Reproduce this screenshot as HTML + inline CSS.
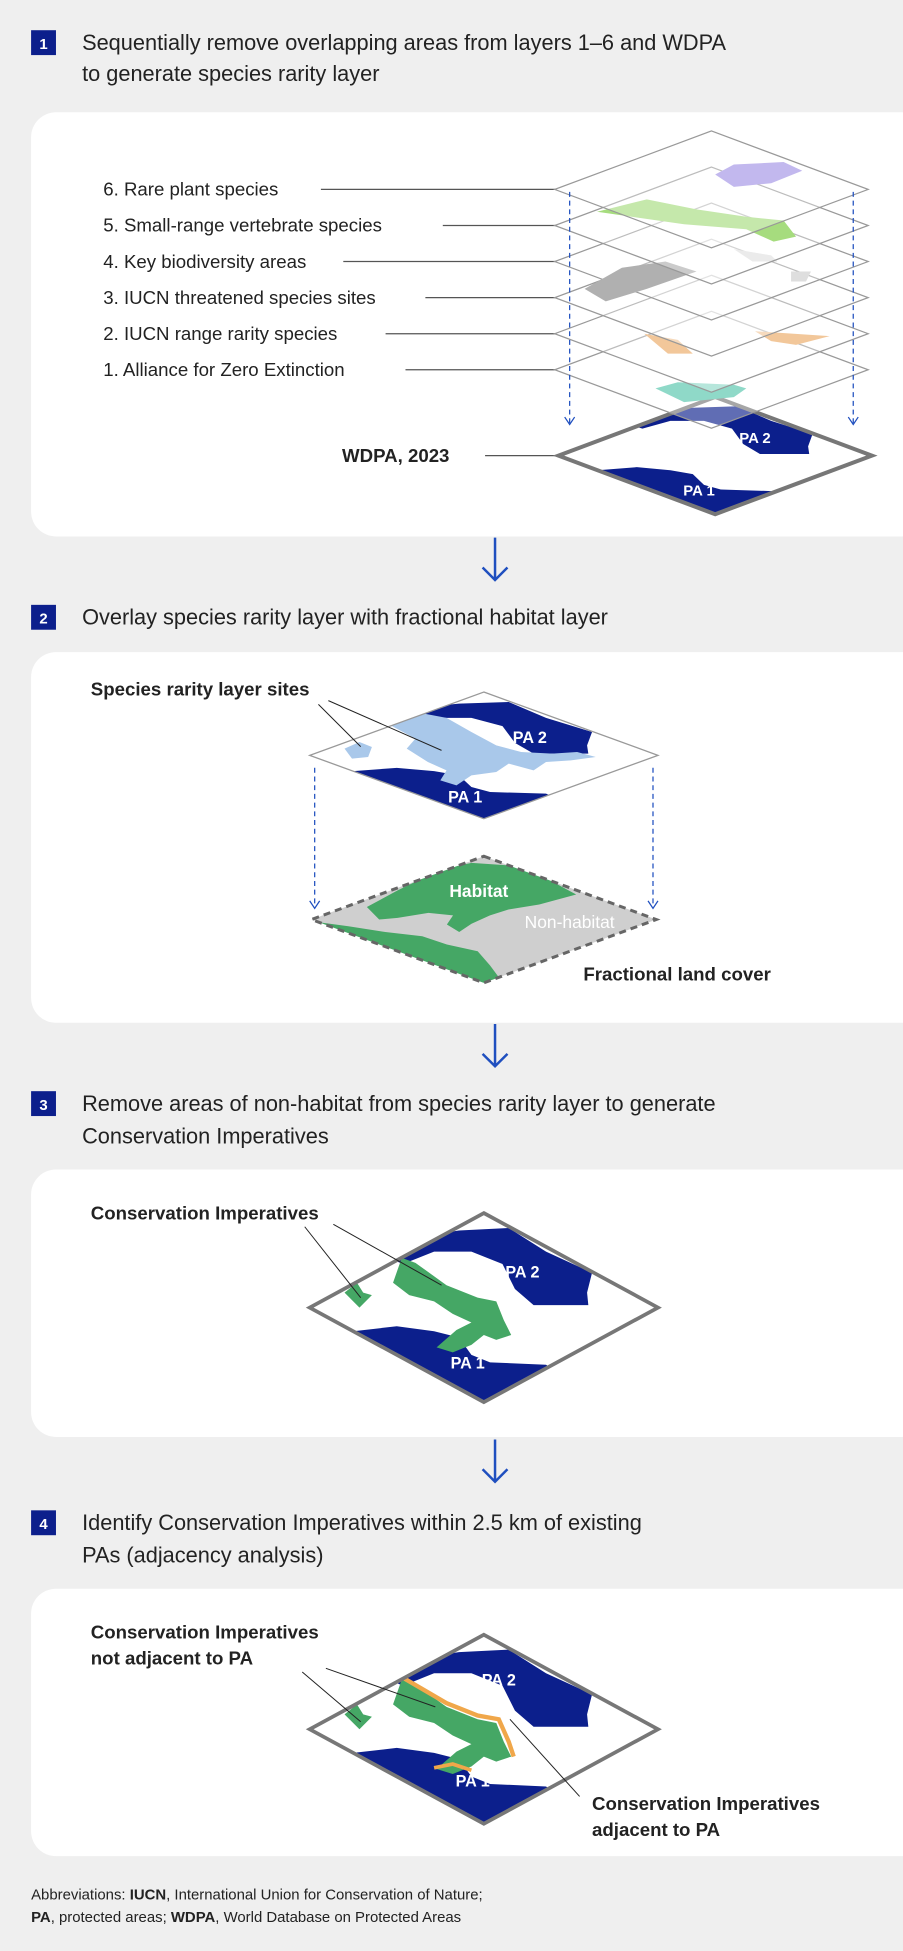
<!DOCTYPE html>
<html><head><meta charset="utf-8"><style>
html,body{margin:0;padding:0;background:#efefef;}
svg{display:block;}
text{font-family:"Liberation Sans",sans-serif;}
</style></head><body>
<svg width="903" height="1951" viewBox="0 0 726 1568" xmlns="http://www.w3.org/2000/svg">
<defs>
<clipPath id="dm"><path d="M0,-76 L140,0 L0,76 L-140,0Z"/></clipPath>
<g id="pa2"><path d="M-72,-38 L-60,-56 L-20,-62 L20,-64 L50,-45 L87,-28 L83,-12 L84,-2 L40,-2 L25,-15 L15,-35 L-10,-45 L-40,-45 L-65,-35Z" fill="#0c1f8c"/></g>
<g id="pa1"><path d="M-105,19 L-70,15 L-40,19 L-20,24 L-10,38 L5,44 L50,46 L70,60 L0,95 L-130,20Z" fill="#0c1f8c"/></g>
<g id="green"><path d="M-73,-20 L-66,-40 L-55,-36 L-30,-18 L-5,-8 L10,-5 L16,10 L22,22 L10,26 L0,22 L-10,30 L-25,36 L-38,32 L-22,18 L-10,12 L-25,5 L-40,-5 L-60,-10Z" fill="#45a765"/><path d="M-112,-12 L-102,-20 L-97,-12 L-90,-10 L-100,0Z" fill="#45a765"/></g>
</defs>
<rect width="726" height="1568" fill="#efefef"/>

<rect x="25" y="24" width="20" height="20" fill="#0c1f8c"/><text x="35" y="39" font-size="12" font-weight="bold" fill="#fff" text-anchor="middle">1</text>
<text x="66" y="40" font-size="17.5" fill="#222">Sequentially remove overlapping areas from layers 1–6 and WDPA</text>
<text x="66" y="65" font-size="17.5" fill="#222">to generate species rarity layer</text>

<rect x="25" y="486" width="20" height="20" fill="#0c1f8c"/><text x="35" y="501" font-size="12" font-weight="bold" fill="#fff" text-anchor="middle">2</text>
<text x="66" y="502" font-size="17.5" fill="#222">Overlay species rarity layer with fractional habitat layer</text>

<rect x="25" y="877" width="20" height="20" fill="#0c1f8c"/><text x="35" y="892" font-size="12" font-weight="bold" fill="#fff" text-anchor="middle">3</text>
<text x="66" y="893" font-size="17.5" fill="#222">Remove areas of non-habitat from species rarity layer to generate</text>
<text x="66" y="919" font-size="17.5" fill="#222">Conservation Imperatives</text>

<rect x="25" y="1214" width="20" height="20" fill="#0c1f8c"/><text x="35" y="1229" font-size="12" font-weight="bold" fill="#fff" text-anchor="middle">4</text>
<text x="66" y="1230" font-size="17.5" fill="#222">Identify Conservation Imperatives within 2.5 km of existing</text>
<text x="66" y="1256" font-size="17.5" fill="#222">PAs (adjacency analysis)</text>

<rect x="25" y="90" width="720" height="341" rx="20" fill="#fff"/>
<rect x="25" y="524" width="720" height="298" rx="20" fill="#fff"/>
<rect x="25" y="940" width="720" height="215" rx="20" fill="#fff"/>
<rect x="25" y="1277" width="720" height="215" rx="20" fill="#fff"/>

<g stroke="#1f4fbf" stroke-width="2" fill="none">
<path d="M398,432 V466 M388,456 L398,466 L408,456"/>
<path d="M398,823 V857 M388,847 L398,857 L408,847"/>
<path d="M398,1157 V1191 M388,1181 L398,1191 L408,1181"/>
</g>

<g font-size="15" fill="#222">
<text x="83" y="157">6. Rare plant species</text>
<text x="83" y="186">5. Small-range vertebrate species</text>
<text x="83" y="215">4. Key biodiversity areas</text>
<text x="83" y="244">3. IUCN threatened species sites</text>
<text x="83" y="273">2. IUCN range rarity species</text>
<text x="83" y="302">1. Alliance for Zero Extinction</text>
</g>
<g stroke="#555" stroke-width="1">
<path d="M258,152 H447 M356,181 H447 M276,210 H447 M342,239 H447 M310,268 H447 M326,297 H447 M390,366 H449"/>
</g>
<text x="275" y="371" font-size="15" font-weight="bold" fill="#222">WDPA, 2023</text>
<g transform="translate(575,366) scale(0.9,0.62)">
<g clip-path="url(#dm)"><use href="#pa2"/><use href="#pa1"/></g>
<path d="M0,-76 L140,0 L0,76 L-140,0Z" fill="none" stroke="#777" stroke-width="4" vector-effect="non-scaling-stroke"/>
</g>
<text x="607" y="356" font-size="12" font-weight="bold" fill="#fff" text-anchor="middle">PA 2</text>
<text x="562" y="398" font-size="12" font-weight="bold" fill="#fff" text-anchor="middle">PA 1</text>
<g fill="#fff" fill-opacity="0.35" stroke="#999" stroke-width="1">
<path d="M572,250 L698,297 L572,344 L446,297Z"/>
<polygon points="527,312 545,307 590,309 600,312 590,319 550,323" fill="#8fd9c8" fill-opacity="1" stroke="none"/>
<path d="M572,221 L698,268 L572,315 L446,268Z"/>
<polygon points="518,268 545,273 557,284 537,284" fill="#f2c79a" fill-opacity="1" stroke="none"/>
<polygon points="607,266 667,270 640,277 620,274" fill="#f2c79a" fill-opacity="1" stroke="none"/>
<path d="M572,192 L698,239 L572,286 L446,239Z"/>
<polygon points="636,218 652,218 648,226 636,226" fill="#ccc" fill-opacity="1" stroke="none"/>
<path d="M572,163 L698,210 L572,257 L446,210Z"/>
<polygon points="470,232 500,215 535,210 560,218 520,232 487,242" fill="#b0b0b0" fill-opacity="1" stroke="none"/>
<polygon points="590,200 620,205 625,210 605,210" fill="#e0e0e0" fill-opacity="1" stroke="none"/>
<path d="M572,134 L698,181 L572,228 L446,181Z"/>
<polygon points="480,170 520,160 560,168 600,174 630,177 640,190 622,194 600,184 550,180" fill="#a6dc7e" fill-opacity="1" stroke="none"/>
<path d="M572,105 L698,152 L572,199 L446,152Z"/>
<polygon points="575,140 590,132 630,130 645,137 620,147 590,150" fill="#c2b8ee" fill-opacity="1" stroke="none"/>
</g>
<g stroke="#1f4fbf" stroke-width="1" fill="none" stroke-dasharray="4,3">
<path d="M458,154 V340 M686,154 V340"/>
</g>
<g stroke="#1f4fbf" stroke-width="1" fill="none"><path d="M454,335 L458,341 L462,335 M682,335 L686,341 L690,335"/></g>

<g transform="translate(389,607) scale(1,0.67)">
<g clip-path="url(#dm)">
<use href="#pa2"/><use href="#pa1"/>
<path d="M-75,-36 L-55,-52 L-30,-45 L-10,-28 L10,-12 L30,-4 L55,-2 L75,-4 L90,2 L70,6 L50,8 L40,18 L30,14 L20,10 L10,20 L-10,24 L-22,36 L-35,30 L-30,18 L-45,8 L-62,-8 L-55,-20Z" fill="#a9c8ea"/>
<path d="M-112,-8 L-100,-16 L-90,-10 L-93,2 L-106,4Z" fill="#a9c8ea"/>
</g>
<path d="M0,-76 L140,0 L0,76 L-140,0Z" fill="none" stroke="#999" stroke-width="1.3" vector-effect="non-scaling-stroke"/>
</g>
<text x="426" y="597" font-size="13" font-weight="bold" fill="#fff" text-anchor="middle">PA 2</text>
<text x="374" y="645" font-size="13" font-weight="bold" fill="#fff" text-anchor="middle">PA 1</text>
<text x="73" y="559" font-size="15" font-weight="bold" fill="#222">Species rarity layer sites</text>
<path d="M256,566 L290,600 M264,563 L355,603" stroke="#222" stroke-width="0.8"/>
<g transform="translate(389,739) scale(0.99,0.67)">
<g clip-path="url(#dm)">
<rect x="-140" y="-76" width="280" height="152" fill="#cfcfcf"/>
<path d="M-95,-15 L-70,-35 L-35,-60 L-10,-68 L20,-65 L50,-50 L75,-30 L45,-18 L20,-12 L5,-5 L-10,5 L-20,15 L-30,6 L-25,-5 L-45,-8 L-70,-2 L-85,0Z" fill="#45a765"/>
<path d="M-110,8 L-80,15 L-50,20 L-30,30 L-5,38 L5,55 L15,75 L0,90 L-150,0Z" fill="#45a765"/>
</g>
<path d="M0,-76 L140,0 L0,76 L-140,0Z" fill="none" stroke="#666" stroke-width="3" stroke-dasharray="7,5" vector-effect="non-scaling-stroke"/>
</g>
<text x="385" y="721" font-size="14" font-weight="bold" fill="#fff" text-anchor="middle">Habitat</text>
<text x="458" y="746" font-size="14" fill="#fff" text-anchor="middle">Non-habitat</text>
<text x="469" y="788" font-size="15" font-weight="bold" fill="#222">Fractional land cover</text>
<g stroke="#1f4fbf" stroke-width="1" fill="none" stroke-dasharray="4,3"><path d="M253,617 V728 M525,617 V728"/></g>
<g stroke="#1f4fbf" stroke-width="1" fill="none"><path d="M249,724 L253,730 L257,724 M521,724 L525,730 L529,724"/></g>

<g transform="translate(389,1051)">
<g clip-path="url(#dm)"><use href="#pa2"/><use href="#pa1"/><use href="#green"/></g>
<path d="M0,-76 L140,0 L0,76 L-140,0Z" fill="none" stroke="#777" stroke-width="3"/>
</g>
<text x="420" y="1027" font-size="13" font-weight="bold" fill="#fff" text-anchor="middle">PA 2</text>
<text x="376" y="1100" font-size="13" font-weight="bold" fill="#fff" text-anchor="middle">PA 1</text>
<text x="73" y="980" font-size="15" font-weight="bold" fill="#222">Conservation Imperatives</text>
<path d="M245,986 L290,1043 M268,984 L355,1033" stroke="#222" stroke-width="0.8"/>

<g transform="translate(389,1390)">
<g clip-path="url(#dm)"><use href="#pa2"/><use href="#pa1"/><use href="#green"/>
<polyline points="-66,-42 -30,-21 -5,-11 12,-8 20,10 24,22" fill="none" stroke="#f0a74a" stroke-width="3.5"/>
<polyline points="-40,31 -25,28 -10,33" fill="none" stroke="#f0a74a" stroke-width="3"/>
</g>
<path d="M0,-76 L140,0 L0,76 L-140,0Z" fill="none" stroke="#777" stroke-width="3"/>
</g>
<text x="401" y="1355" font-size="13" font-weight="bold" fill="#fff" text-anchor="middle">PA 2</text>
<text x="380" y="1436" font-size="13" font-weight="bold" fill="#fff" text-anchor="middle">PA 1</text>
<text x="73" y="1317" font-size="15" font-weight="bold" fill="#222">Conservation Imperatives</text>
<text x="73" y="1338" font-size="15" font-weight="bold" fill="#222">not adjacent to PA</text>
<path d="M243,1344 L290,1384 M262,1341 L350,1372" stroke="#222" stroke-width="0.8"/>
<text x="476" y="1455" font-size="15" font-weight="bold" fill="#222">Conservation Imperatives</text>
<text x="476" y="1476" font-size="15" font-weight="bold" fill="#222">adjacent to PA</text>
<path d="M466,1444 L410,1382" stroke="#222" stroke-width="0.8"/>

<text x="25" y="1527" font-size="12" fill="#222">Abbreviations: <tspan font-weight="bold">IUCN</tspan>, International Union for Conservation of Nature;</text>
<text x="25" y="1545" font-size="12" fill="#222"><tspan font-weight="bold">PA</tspan>, protected areas; <tspan font-weight="bold">WDPA</tspan>, World Database on Protected Areas</text>
</svg>
</body></html>
